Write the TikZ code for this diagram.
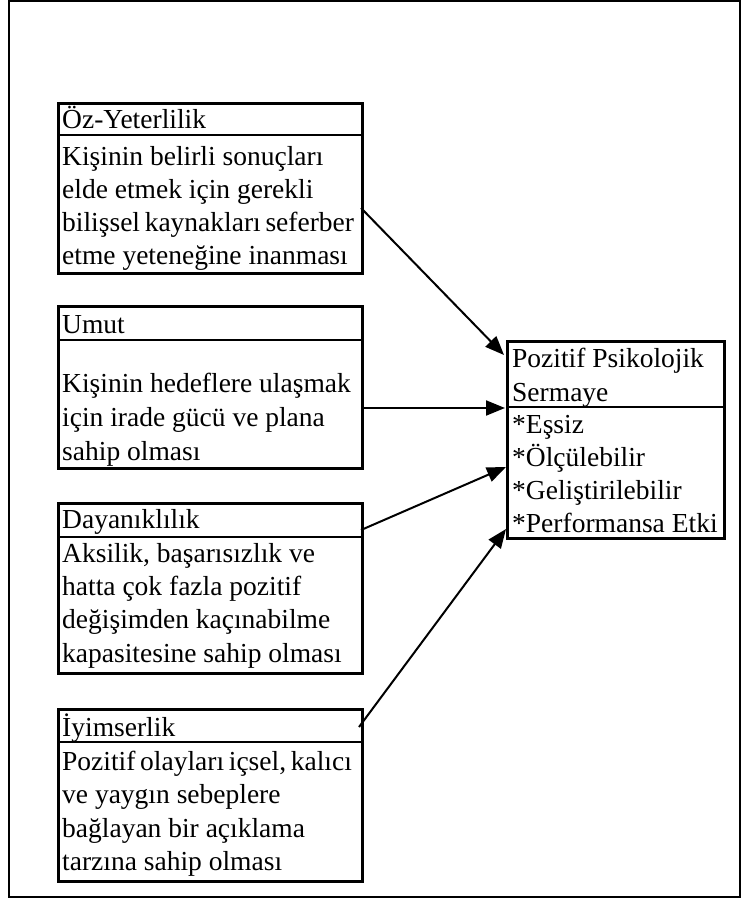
\documentclass[tikz,border=0pt]{standalone}
\usepackage{fontspec}
\setmainfont{Liberation Serif}
\usetikzlibrary{arrows.meta}

% narrower word spaces for the longest lines
\newcommand{\narrowspaces}{\spaceskip=0.17em plus 0.05em\relax}

\tikzset{
  frame/.style={draw=black, line width=2.4pt},
  box/.style={draw=black, line width=2.6pt, rectangle, inner sep=0pt, anchor=north west},
  divider/.style={draw=black, line width=1.8pt},
  txt/.style={anchor=base west, inner sep=0pt, font=\fontsize{27.5}{33}\selectfont},
  arr/.style={draw=black, line width=2pt, -{Triangle[length=19pt,width=15pt]}}
}

\begin{document}
\begin{tikzpicture}[x=1pt, y=-1pt]
\useasboundingbox (0,0) rectangle (750,908);

% outer frame
\draw[frame] (9,1) rectangle (740,897);

% Öz-Yeterlilik
\node[box, minimum width=304pt, minimum height=170pt] (oz) at (57,102) {};
\draw[divider] (57,135) -- (361,135);
\node[txt] (ozT) at (62,128) {Öz-Yeterlilik};
\node[txt] (oz1) at (62,165) {Kişinin belirli sonuçları};
\node[txt] (oz2) at (62,198) {elde etmek için gerekli};
\node[txt] (oz3) at (62,231) {\narrowspaces bilişsel kaynakları seferber};
\node[txt] (oz4) at (62,264) {etme yeteneğine inanması};

% Umut
\node[box, minimum width=304pt, minimum height=162pt] (um) at (57,305) {};
\draw[divider] (57,340) -- (361,340);
\node[txt] (umT) at (62,333) {Umut};
\node[txt] (um1) at (62,392) {Kişinin hedeflere ulaşmak};
\node[txt] (um2) at (62,426) {için irade gücü ve plana};
\node[txt] (um3) at (62,460) {sahip olması};

% Dayanıklılık
\node[box, minimum width=304pt, minimum height=170pt] (da) at (57,502) {};
\draw[divider] (57,537) -- (361,537);
\node[txt] (daT) at (62,528) {Dayanıklılık};
\node[txt] (da1) at (62,562) {Aksilik, başarısızlık ve};
\node[txt] (da2) at (62,595) {hatta çok fazla pozitif};
\node[txt] (da3) at (62,628) {değişimden kaçınabilme};
\node[txt] (da4) at (62,662) {kapasitesine sahip olması};

% İyimserlik
\node[box, minimum width=304pt, minimum height=172pt] (iy) at (57,708) {};
\draw[divider] (57,742) -- (361,742);
\node[txt] (iyT) at (62,736) {İyimserlik};
\node[txt] (iy1) at (62,770) {\narrowspaces Pozitif olayları içsel, kalıcı};
\node[txt] (iy2) at (62,803) {ve yaygın sebeplere};
\node[txt] (iy3) at (62,837) {bağlayan bir açıklama};
\node[txt] (iy4) at (62,870) {tarzına sahip olması};

% Pozitif Psikolojik Sermaye
\node[box, minimum width=217pt, minimum height=197pt] (pps) at (506,340) {};
\draw[divider] (506,407) -- (723,407);
\node[txt] (pT1) at (512,367) {Pozitif Psikolojik};
\node[txt] (pT2) at (512,401) {Sermaye};
\node[txt] (p1) at (512,433) {*Eşsiz};
\node[txt] (p2) at (512,466) {*Ölçülebilir};
\node[txt] (p3) at (512,499) {*Geliştirilebilir};
\node[txt] (p4) at (512,532) {*Performansa Etki};

% connector end points
\coordinate (ozOut) at (361,208);
\coordinate (umOut) at (361,408);
\coordinate (daOut) at (361,530);
\coordinate (iyOut) at (359,727);
\coordinate (ppsIn1) at (504,355);
\coordinate (ppsIn2) at (505,408);
\coordinate (ppsIn3) at (506,467);
\coordinate (ppsIn4) at (506,529);

\draw[arr] (ozOut) -- (ppsIn1);
\draw[arr] (umOut) -- (ppsIn2);
\draw[arr] (daOut) -- (ppsIn3);
\draw[arr] (iyOut) -- (ppsIn4);
\end{tikzpicture}
\end{document}
